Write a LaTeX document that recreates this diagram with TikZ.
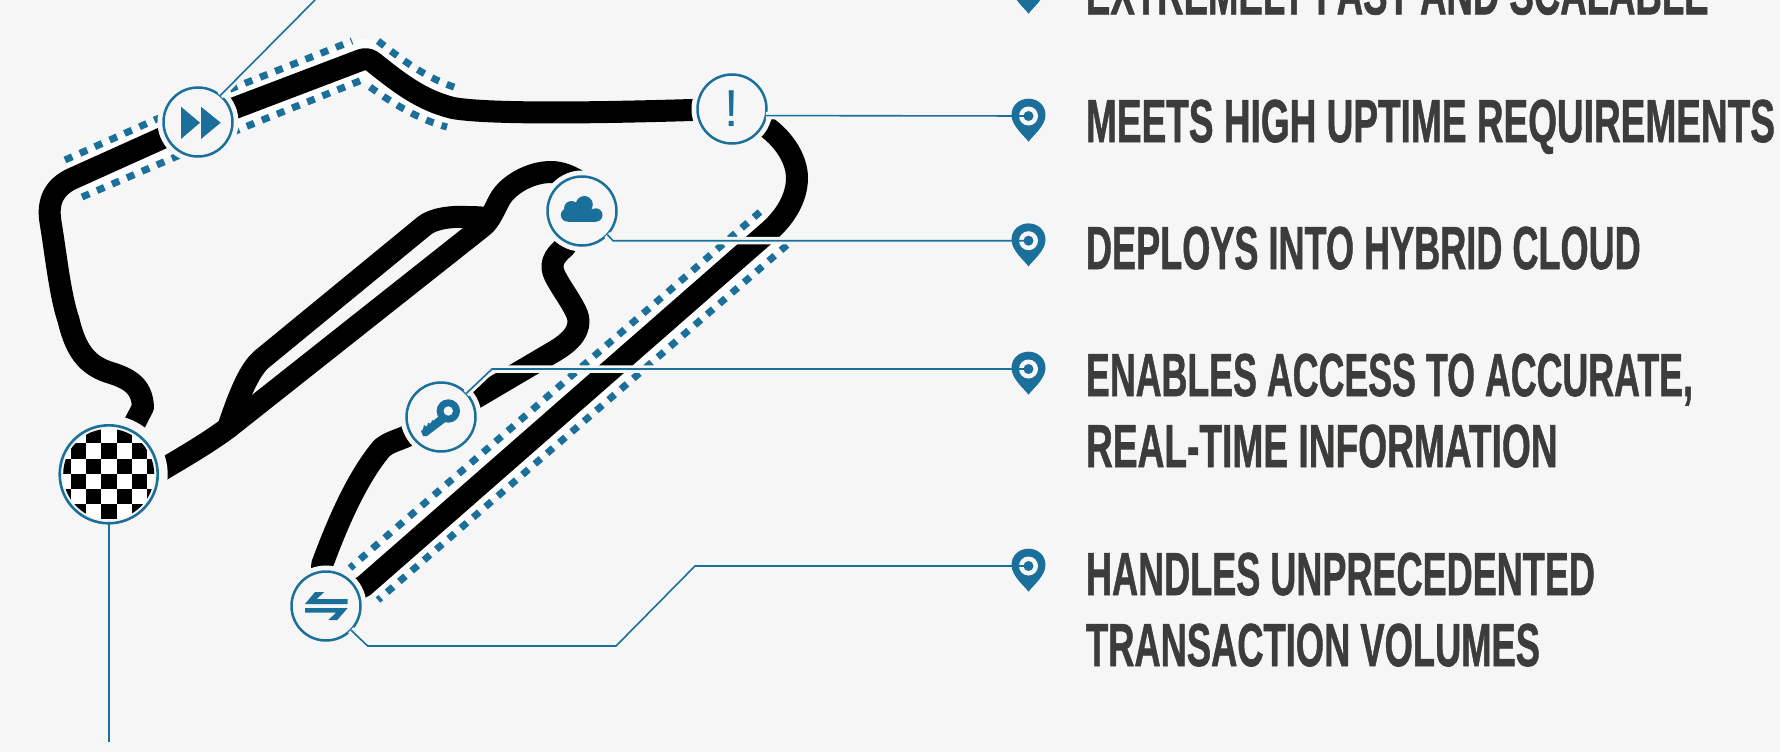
\documentclass[tikz,border=0pt]{standalone}
\usepackage{fontspec}
\usepackage{graphicx}
\newfontfamily\capsfont{Liberation Sans}[BoldFeatures={FakeBold=1.2}]
\newfontfamily\markfont{Liberation Sans}
\definecolor{bgc}{HTML}{F6F6F6}
\definecolor{tealb}{HTML}{1B6F9B}
\definecolor{inkc}{HTML}{3C3C3B}
\tikzset{
  trackline/.style={line width=22pt,draw=black,line join=round},
  whiteband/.style={line width=40pt,draw=white,line join=round},
  dashline/.style={line width=7pt,draw=tealb,dash pattern=on 8pt off 8.3pt},
  leaderhalo/.style={line width=7.5pt,draw=bgc},
  leaderline/.style={line width=1.6pt,draw=tealb},
  stopnode/.style={circle,draw=tealb,line width=2.5pt,fill=bgc,minimum size=69pt,inner sep=0pt,outer sep=0pt,preaction={draw=bgc,line width=12pt}},
  finishnode/.style={circle,draw=tealb,line width=2.6pt,fill=bgc,minimum size=98pt,inner sep=0pt,outer sep=0pt,preaction={draw=bgc,line width=20pt}},
  pinring/.style={circle,fill=bgc,minimum size=19pt,inner sep=0pt,outer sep=0pt},
  pindot/.style={circle,fill=tealb,minimum size=10pt,inner sep=0pt,outer sep=0pt},
  labeltext/.style={anchor=base west,inner sep=0pt,outer sep=0pt,text=inkc,font=\capsfont\bfseries\fontsize{60.7}{60.7}\selectfont},
  iconfill/.style={fill=tealb,draw=none}
}
\newcommand{\fitline}[2]{\resizebox{#1pt}{\height}{#2}}
\newcommand{\pinbody}[1]{\fill[tealb,shift={(#1)}] (0,25.7) .. controls (-4,20) and (-17,10) .. (-17,-1) .. controls (-17,-11) and (-9,-17.3) .. (0,-17.3) .. controls (9,-17.3) and (17,-11) .. (17,-1) .. controls (17,10) and (4,20) .. (0,25.7) -- cycle;}
\begin{document}
\begin{tikzpicture}[x=1pt,y=-1pt]
\useasboundingbox (0,0) rectangle (1780,752);
\clip (0,0) rectangle (1780,752);
\fill[bgc] (0,0) rectangle (1780,752);

\coordinate (cFin) at (108.7,474.3);
\coordinate (cFf) at (198,122);
\coordinate (cEx) at (732,109);
\coordinate (cCl) at (582,211);
\coordinate (cKey) at (441,417);
\coordinate (cTr) at (326,606);
\coordinate (P0) at (1028.5,-12);
\coordinate (P1) at (1028.5,116);
\coordinate (P2) at (1028.5,240.7);
\coordinate (P3) at (1028.5,369);
\coordinate (P4) at (1028.5,566);
\coordinate (bCl) at (613,240.7);
\coordinate (bKey) at (492,369);
\coordinate (bTr1) at (367.7,646);
\coordinate (bTr2) at (616,646);
\coordinate (bTr3) at (695,566);
\coordinate (ffEnd) at (315,0);
\coordinate (finEnd) at (108.7,742);

% white bands
\draw[whiteband] (73.5,178.5) -- (cFf) -- (361,60) .. controls (366,58.5) and (369,59) .. (373,62) .. controls (397,81) and (420,100) .. (452,108);
\draw[whiteband] (773.5,228.5) -- (364,584);

% dashed edges
\draw[dashline] (65,160) -- (157,119) -- (233,88) -- (352,41);
\draw[dashline] (378,41) .. controls (400,58) and (425,78) .. (457,88);
\draw[dashline] (82,197) -- (173,158) -- (245,127) -- (362,80);
\draw[dashline] (370,87) .. controls (395,105) and (420,120) .. (447,127);
\draw[dashline] (760,212) -- (350,568);
\draw[dashline] (787,245) -- (378,600);

% track
\draw[trackline] (cFin) -- (150,477) .. controls (180,459) and (205,445) .. (228,428) -- (482,227) .. controls (490,221) and (494,210) .. (500,199) .. controls (508,185) and (530,172) .. (551,172) .. controls (560,172) and (570,175) .. (585,185);
\draw[trackline] (228,428) .. controls (240,392) and (250,369) .. (262,359) -- (424,226) .. controls (432,219) and (450,216) .. (467,217) .. controls (480,217) and (490,218) .. (497,220);
\draw[trackline] (cFf) -- (71.5,179) .. controls (55,187) and (47,200) .. (50.5,222) .. controls (56,255) and (60,295) .. (68.5,320) .. controls (76,352) and (88,365) .. (108,372) .. controls (128,378) and (142,385) .. (143,407) -- (cFin);
\draw[trackline] (cFf) -- (361,60) .. controls (366,58.5) and (369,59) .. (373,62) .. controls (397,81) and (420,100) .. (453,108) .. controls (480,113) and (560,114) .. (692,110) -- (cEx);
\draw[trackline] (cEx) -- (768,128) .. controls (785,141) and (797,160) .. (797,178) .. controls (797,198) and (785,218) .. (767,233) -- (364,586) -- (cTr);
\draw[trackline] (cTr) -- (322,565) .. controls (335,530) and (355,480) .. (382,448) .. controls (388,443) and (395,441) .. (405,437) -- (cKey);
\draw[trackline] (cKey) -- (477,397) -- (555,351) .. controls (570,342) and (583,330) .. (577,314) .. controls (572,302) and (561,288) .. (555,276) .. controls (550,266) and (552,257) .. (565,247) -- (cCl);

% stops
\node[finishnode] (fin) at (cFin) {};
\node[stopnode] (ff) at (cFf) {};
\node[stopnode,text=tealb,font=\markfont\fontsize{52}{52}\selectfont] (ex) at (cEx) {!};
\node[stopnode] (cl) at (cCl) {};
\node[stopnode] (key) at (cKey) {};
\node[stopnode] (tr) at (cTr) {};

% chequered flag
\begin{scope}
\clip (cFin) circle [radius=45.5pt];
\fill[white] (cFin) circle [radius=46pt];
\foreach \r/\c in {0/1,0/3,1/0,1/2,1/4,2/-1,2/1,2/3,2/5,3/0,3/2,3/4,4/-1,4/1,4/3,4/5,5/0,5/2,5/4}{
  \fill[black] ({70.7+15.33*\c},{428.3+15.17*\r}) rectangle ({70.7+15.33*(\c+1)},{428.3+15.17*(\r+1)});
}
\end{scope}

% icons
\fill[iconfill] (181,106.7) -- (181,139) -- (200,122.7) -- cycle;
\fill[iconfill] (201,106.7) -- (201,139) -- (220.7,122.7) -- cycle;
\fill[iconfill] (584.3,204.5) circle [radius=8.5pt];
\fill[iconfill] (571.5,208.5) circle [radius=7.5pt];
\fill[iconfill] (567.5,215) circle [radius=6.7pt];
\fill[iconfill] (595.8,215) circle [radius=6.7pt];
\fill[iconfill] (567.5,209) rectangle (595.8,221.7);
\fill[iconfill] (448.3,411) circle [radius=11.7pt];
\fill[iconfill] (445,411) -- (452,417) -- (427,436) -- (423,436) -- (421,431) -- cycle;
\fill[iconfill] (423,429) -- (424,425) -- (427,427) -- (428,422.5) -- (431,424.5) -- (432,420) -- (436,422) -- (428,432) -- cycle;
\fill[bgc] (448.3,411) circle [radius=4.7pt];
\fill[iconfill] (305,604) -- (315,592) -- (324.3,592) -- (316.7,599) -- (347.7,599) -- (347.7,604) -- cycle;
\fill[iconfill] (305,608) -- (347.7,608) -- (337.3,620) -- (328.3,620) -- (336,612.7) -- (305,612.7) -- cycle;

% leader halos
\draw[leaderhalo] (ff.50) -- (ffEnd);
\draw[leaderhalo] (ex.-11) -- (P1);
\draw[leaderhalo] (cl.-43) -- (bCl) -- (P2);
\draw[leaderhalo] (key.43) -- (bKey) -- (P3);
\draw[leaderhalo] (tr.-44) -- (bTr1) -- (bTr2) -- (bTr3) -- (P4);

% pins
\pinbody{P0}
\pinbody{P1}
\pinbody{P2}
\pinbody{P3}
\pinbody{P4}
\node[pinring] (r1) at (P1) {};
\node[pinring] (r2) at (P2) {};
\node[pinring] (r3) at (P3) {};
\node[pinring] (r4) at (P4) {};

% leaders
\draw[leaderline] (ff.50) -- (ffEnd);
\draw[leaderline] (ex.-11) -- (r1.center);
\draw[leaderline] (cl.-43) -- (bCl) -- (r2.center);
\draw[leaderline] (key.43) -- (bKey) -- (r3.center);
\draw[leaderline] (tr.-44) -- (bTr1) -- (bTr2) -- (bTr3) -- (r4.center);
\draw[leaderline,line width=2.2pt] (fin.south) -- (finEnd);

\node[pindot] (d1) at (P1) {};
\node[pindot] (d2) at (P2) {};
\node[pindot] (d3) at (P3) {};
\node[pindot] (d4) at (P4) {};

% labels
\node[labeltext] (t0) at (1086,14.3) {\fitline{622.6}{EXTREMELY FAST AND SCALABLE}};
\node[labeltext] (t1) at (1086,142) {\fitline{689}{MEETS HIGH UPTIME REQUIREMENTS}};
\node[labeltext] (t2) at (1086,269) {\fitline{554.7}{DEPLOYS INTO HYBRID CLOUD}};
\node[labeltext] (t3) at (1086,396) {\fitline{607}{ENABLES ACCESS TO ACCURATE,}};
\node[labeltext] (t4) at (1086,467) {\fitline{471.6}{REAL-TIME INFORMATION}};
\node[labeltext] (t5) at (1086,595) {\fitline{509}{HANDLES UNPRECEDENTED}};
\node[labeltext] (t6) at (1086,666) {\fitline{454}{TRANSACTION VOLUMES}};
\end{tikzpicture}
\end{document}
